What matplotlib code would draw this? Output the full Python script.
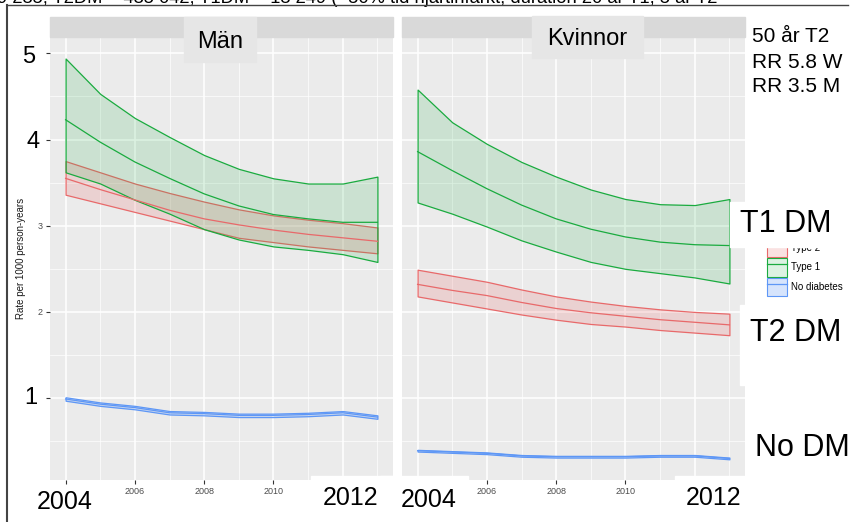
import matplotlib
matplotlib.use("Agg")
import matplotlib.pyplot as plt
from matplotlib.patches import Rectangle, Patch
from matplotlib.lines import Line2D
from matplotlib.colors import to_rgba

plt.rcParams['font.family'] = ['Liberation Sans', 'DejaVu Sans']

years = [2004, 2005, 2006, 2007, 2008, 2009, 2010, 2011, 2012, 2013]

# Män
men_t1_hi = [4.94, 4.53, 4.25, 4.03, 3.82, 3.66, 3.55, 3.49, 3.49, 3.57]
men_t1_mid = [4.23, 3.97, 3.74, 3.55, 3.37, 3.23, 3.13, 3.08, 3.04, 3.04]
men_t1_lo = [3.62, 3.49, 3.30, 3.14, 2.96, 2.84, 2.76, 2.72, 2.67, 2.58]
men_t2_hi = [3.75, 3.62, 3.49, 3.38, 3.28, 3.19, 3.12, 3.07, 3.03, 2.98]
men_t2_mid = [3.55, 3.42, 3.30, 3.18, 3.08, 3.01, 2.95, 2.90, 2.86, 2.82]
men_t2_lo = [3.36, 3.26, 3.16, 3.06, 2.96, 2.86, 2.81, 2.76, 2.72, 2.68]
men_no_hi = [1.01, 0.95, 0.91, 0.85, 0.84, 0.82, 0.82, 0.83, 0.85, 0.80]
men_no_mid = [0.99, 0.93, 0.89, 0.83, 0.82, 0.80, 0.80, 0.81, 0.83, 0.78]
men_no_lo = [0.97, 0.91, 0.87, 0.81, 0.80, 0.78, 0.78, 0.79, 0.81, 0.76]

# Kvinnor
wom_t1_hi = [4.58, 4.20, 3.95, 3.74, 3.57, 3.42, 3.31, 3.25, 3.24, 3.31]
wom_t1_mid = [3.86, 3.64, 3.43, 3.24, 3.08, 2.96, 2.87, 2.81, 2.78, 2.77]
wom_t1_lo = [3.27, 3.14, 2.99, 2.83, 2.70, 2.58, 2.50, 2.45, 2.40, 2.33]
wom_t2_hi = [2.49, 2.42, 2.35, 2.26, 2.18, 2.12, 2.07, 2.03, 2.00, 1.98]
wom_t2_mid = [2.32, 2.25, 2.19, 2.11, 2.04, 1.99, 1.95, 1.91, 1.88, 1.85]
wom_t2_lo = [2.18, 2.11, 2.04, 1.97, 1.91, 1.86, 1.83, 1.79, 1.76, 1.73]
wom_no_hi = [0.40, 0.385, 0.37, 0.34, 0.33, 0.33, 0.33, 0.34, 0.34, 0.31]
wom_no_mid = [0.39, 0.375, 0.36, 0.33, 0.32, 0.32, 0.32, 0.33, 0.33, 0.30]
wom_no_lo = [0.38, 0.365, 0.35, 0.32, 0.31, 0.31, 0.31, 0.32, 0.32, 0.29]

groups = ['Type 2', 'Type 1', 'No diabetes']
line_cols = ['#E8696A', '#1AAB3F', '#5E97F6']
fill_alpha = [0.2, 0.15, 0.25]

W, H = 852, 522
fig = plt.figure(figsize=(W / 100, H / 100), dpi=100)


def fx(px):
    return px / W


def fy(py):
    return 1 - py / H


ax_m = fig.add_axes([fx(50), fy(480), fx(343), 443 / H])
ax_k = fig.add_axes([fx(402), fy(480), fx(343), 443 / H])

for ax in (ax_m, ax_k):
    ax.set_facecolor('#EBEBEB')
    ax.set_xlim(2003.55, 2013.45)
    ax.set_ylim(0.05, 5.19)
    ax.set_xticks([2004, 2006, 2008, 2010, 2012])
    ax.set_xticks([2005, 2007, 2009, 2011, 2013], minor=True)
    ax.set_xticklabels(['', '2006', '2008', '2010', ''])
    ax.set_yticks([1, 2, 3, 4, 5])
    ax.set_yticks([0.5, 1.5, 2.5, 3.5, 4.5], minor=True)
    ax.grid(which='major', color='white', lw=1.1)
    ax.grid(which='minor', color='white', lw=0.5)
    ax.set_axisbelow(True)
    for s in ax.spines.values():
        s.set_visible(False)
    ax.tick_params(which='minor', length=0)
    ax.tick_params(which='major', length=3, color='#333333', labelsize=6.5,
                   labelcolor='#4D4D4D', pad=2)

ax_m.set_yticklabels(['', '2', '3', '', ''])
ax_k.tick_params(axis='y', length=0, labelleft=False)
ax_m.set_ylabel('Rate per 1000 person-years', fontsize=7, color='#1A1A1A')
ax_m.yaxis.set_label_coords(-0.07, 0.5)

panels = [
    (ax_m, [(men_t2_lo, men_t2_mid, men_t2_hi), (men_t1_lo, men_t1_mid, men_t1_hi),
            (men_no_lo, men_no_mid, men_no_hi)]),
    (ax_k, [(wom_t2_lo, wom_t2_mid, wom_t2_hi), (wom_t1_lo, wom_t1_mid, wom_t1_hi),
            (wom_no_lo, wom_no_mid, wom_no_hi)]),
]
for ax, series in panels:
    for (lo, mid, hi), c, a in zip(series, line_cols, fill_alpha):
        ax.fill_between(years, lo, hi, facecolor=to_rgba(c, a), edgecolor=c, lw=0.9)
        ax.plot(years, mid, color=c, lw=0.9)

# facet strips
for x0 in (50, 402):
    fig.patches.append(Rectangle((fx(x0), fy(37)), fx(343), 20 / H,
                                 transform=fig.transFigure, color='#D9D9D9', zorder=1))

# legend
handles = [(Patch(facecolor=to_rgba(c, a), edgecolor=c, lw=0.8), Line2D([], [], color=c, lw=0.9))
           for c, a in zip(line_cols, fill_alpha)]
fig.legend(handles, groups, loc='upper left', bbox_to_anchor=(fx(767), fy(239)),
           frameon=False, fontsize=7, handlelength=2.1, handleheight=2.5,
           labelspacing=0.12, handletextpad=0.4, borderpad=0, borderaxespad=0)

# overlay boxes from the slide
boxes = [
    (184, 17, 256, 62, '#E6E6E6'),
    (532, 16, 643, 58, '#E6E6E6'),
    (730, 202, 852, 247, 'white'),
    (740, 305, 852, 385, 'white'),
    (311, 476, 400, 522, 'white'),
    (380, 476, 468, 522, 'white'),
    (675, 476, 760, 522, 'white'),
]
for x0, y0, x1, y1, col in boxes:
    fig.patches.append(Rectangle((fx(x0), fy(y1)), fx(x1 - x0), (y1 - y0) / H,
                                 transform=fig.transFigure, color=col, zorder=6))

big = dict(color='black', zorder=7, va='center')
fig.text(fx(220), fy(42), 'Män', fontsize=17, ha='center', **big)
fig.text(fx(587), fy(39), 'Kvinnor', fontsize=17, ha='center', **big)
fig.text(fx(29), fy(57), '5', fontsize=17, ha='center', **big)
fig.text(fx(33), fy(142), '4', fontsize=17, ha='center', **big)
fig.text(fx(31), fy(398), '1', fontsize=17, ha='center', **big)
fig.text(fx(65), fy(502), '2004', fontsize=18, ha='center', **big)
fig.text(fx(351), fy(498), '2012', fontsize=18, ha='center', **big)
fig.text(fx(429), fy(500), '2004', fontsize=18, ha='center', **big)
fig.text(fx(714), fy(498), '2012', fontsize=18, ha='center', **big)
fig.text(fx(752), fy(36), '50 år T2', fontsize=15, ha='left', **big)
fig.text(fx(752), fy(62), 'RR 5.8 W', fontsize=15, ha='left', **big)
fig.text(fx(752), fy(87), 'RR 3.5 M', fontsize=15, ha='left', **big)
fig.text(fx(740), fy(224), 'T1 DM', fontsize=22, ha='left', **big)
fig.text(fx(750), fy(333), 'T2 DM', fontsize=22, ha='left', **big)
fig.text(fx(755), fy(448), 'No DM', fontsize=22, ha='left', **big)

# slide caption, cut at the top edge as in the screenshot
fig.text(fx(-3), fy(3), '9 235; T2DM ~ 435 042; T1DM ~ 13 249 (~50% tid hjärtinfarkt; '
         'duration 20 år T1, 5 år T2', fontsize=13.2, ha='left', va='baseline', zorder=7)

# slide frame
fig.add_artist(Line2D([fx(7), fx(7)], [fy(4.5), 0], transform=fig.transFigure,
                      color='#444444', lw=1.5, zorder=8))
fig.add_artist(Line2D([fx(7), fx(848)], [fy(4.5), fy(4.5)], transform=fig.transFigure,
                      color='#444444', lw=1.0, zorder=8))

fig.savefig('out.png', dpi=100)
